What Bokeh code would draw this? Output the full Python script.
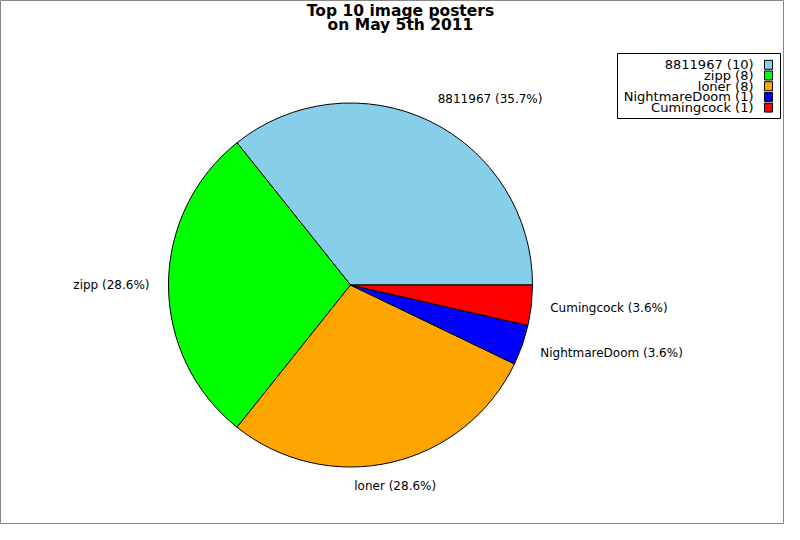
import math
from bokeh.plotting import figure
from bokeh.models import Range1d, ColumnDataSource
from bokeh.embed import file_html
from bokeh.resources import INLINE
from bokeh.core.properties import value

# ---- data ----
names = ["8811967", "zipp", "loner", "NightmareDoom", "Cumingcock"]
counts = [10, 8, 8, 1, 1]
colors = ["#87CEEB", "#00FF00", "#FFA500", "#0000FF", "#FF0000"]
title_lines = ["Top 10 image posters", "on May 5th 2011"]

W, H = 784, 524
FONT = "DejaVu Sans"

p = figure(width=W, height=H, output_backend="svg", toolbar_location=None,
           x_range=Range1d(0, W), y_range=Range1d(0, H), min_border=0)
p.axis.visible = False
p.grid.visible = False
p.outline_line_color = "#888888"
p.outline_line_width = 1
p.background_fill_color = "white"
p.border_fill_color = "white"

# ---- pie ----
cx, cy, R = 350, 239.5, 182
total = sum(counts)
starts, ends, mids = [], [], []
acc = 0.0
for c in counts:
    a0 = acc / total * 2 * math.pi
    acc += c
    a1 = acc / total * 2 * math.pi
    starts.append(a0)
    ends.append(a1)
    mids.append((a0 + a1) / 2)

src = ColumnDataSource(dict(start=starts, end=ends, color=colors))
p.wedge(x=cx, y=cy, radius=R, start_angle="start", end_angle="end",
        fill_color="color", line_color="black", line_width=1, source=src)

# ---- slice labels ----
LRX, LRY = 201, 206
lx, ly, ltxt, lalign = [], [], [], []
for n, c, m in zip(names, counts, mids):
    lx.append(cx + LRX * math.cos(m))
    ly.append(cy + LRY * math.sin(m))
    ltxt.append(f"{n} ({c / total * 100:.1f}%)")
    cm = math.cos(m)
    lalign.append("left" if cm > 0.3 else ("right" if cm < -0.3 else "center"))
lsrc = ColumnDataSource(dict(x=lx, y=ly, t=ltxt, a=lalign))
p.text(x="x", y="y", text="t", text_align="a", text_baseline="middle",
       text_font=value(FONT), text_font_size="12px", text_color="black",
       source=lsrc)

# ---- title ----
p.text(x=[400, 400], y=[514, 500], text=title_lines, text_align="center",
       text_baseline="middle", text_font=value(FONT), text_font_size="15.5px",
       text_font_style="bold", text_color="black")

# ---- legend (manual, text right-aligned, swatch on right) ----
box_l, box_r, box_t, box_b = 617, 780, 471, 406
p.quad(left=box_l, right=box_r, top=box_t, bottom=box_b,
       fill_color="white", line_color="black", line_width=1)
row_y = [459.7 - i * 10.7 for i in range(len(names))]
leg_txt = [f"{n} ({c})" for n, c in zip(names, counts)]
p.text(x=[753] * len(names), y=row_y, text=leg_txt, text_align="right",
       text_baseline="middle", text_font=value(FONT), text_font_size="13px",
       text_color="black")
p.rect(x=[768] * len(names), y=row_y, width=8, height=9,
       fill_color=colors, line_color="black", line_width=1)

open("out.html", "w").write(file_html(p, INLINE))
